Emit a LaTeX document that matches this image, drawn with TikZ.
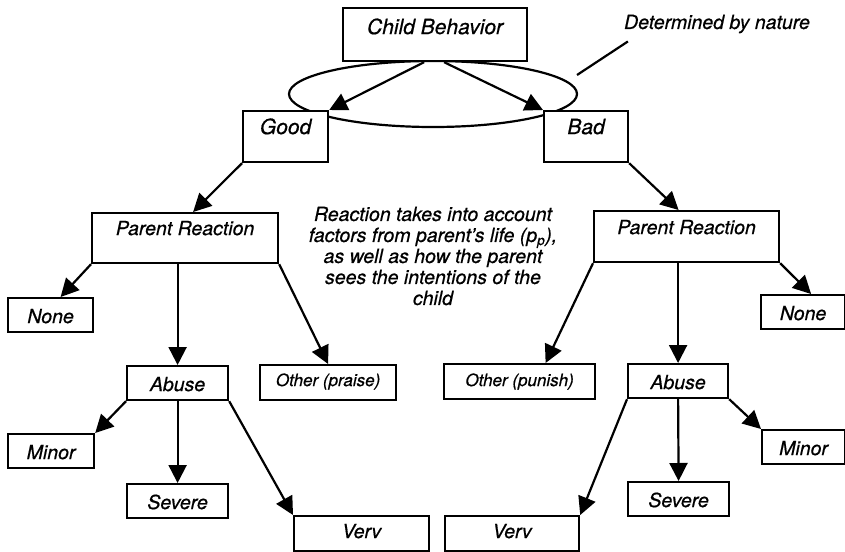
\documentclass[tikz,border=0pt]{standalone}
\usepackage{fontspec}
\setmainfont{TeX Gyre Heros}[ItalicFeatures={FakeBold=0.6}]
\usetikzlibrary{arrows.meta}

\tikzset{
    box/.style={draw, fill=white, line width=2.2pt, inner sep=0pt, anchor=north west,
        font=\fontsize{19.5}{21}\selectfont\itshape},
    tallbox/.style={box, text height=23pt, text depth=28pt},
    smallbox/.style={box, text height=25pt, text depth=9pt},
    arr/.style={line width=2.2pt, -{Triangle[length=18pt,width=18pt]}},
    note/.style={inner sep=0pt, font=\fontsize{19.5}{21}\selectfont\itshape}
}

\begin{document}
\begin{tikzpicture}[x=1pt,y=-1pt]
    \useasboundingbox (0,0) rectangle (845,551);

    % Nature decides the behavior
    \draw[line width=2.2pt] (433,94) ellipse [x radius=144, y radius=33];
    \coordinate (rim) at (577,75);
    \node[note] (nature) at (717,24) {Determined by nature};
    \draw[line width=2.2pt] (rim) -- ([xshift=4pt,yshift=-8pt]nature.south west);

    % Top level
    \node[box, minimum width=184pt, text height=26pt, text depth=27pt,
        font=\fontsize{21}{22}\selectfont\itshape] (child) at (342,7) {Child Behavior};
    \node[tallbox, minimum width=85pt, font=\fontsize{21}{22}\selectfont\itshape] (good) at (242,110) {Good};
    \node[tallbox, minimum width=84pt, font=\fontsize{21}{22}\selectfont\itshape] (bad) at (543,110) {Bad};
    \draw[arr] ([xshift=-11pt]child.south) -- (good.north east);
    \draw[arr] ([xshift=9pt]child.south) -- (bad.north west);

    % Reactions
    \node[tallbox, minimum width=186pt, text height=22pt] (prl) at (91,212) {Parent Reaction};
    \node[tallbox, minimum width=185pt] (prr) at (593,210) {Parent Reaction};
    \draw[arr] (good.south west) -- ([xshift=8pt]prl.north);
    \draw[arr] (bad.south east) -- ([xshift=-8pt]prr.north);

    \node[note, align=center] (reason) at (433,256) {Reaction takes into account\\
        factors from parent’s life (p\textsubscript{p}),\\
        as well as how the parent\\
        sees the intentions of the\\
        child};

    % Left branch
    \node[smallbox, minimum width=85pt] (nonel) at (7,297) {None};
    \node[smallbox, minimum width=101pt] (abusel) at (126,365) {Abuse};
    \node[smallbox, minimum width=136pt, text height=21pt, text depth=14pt,
        font=\fontsize{17}{18}\selectfont\itshape] (otherp) at (259,364) {Other (praise)};
    \draw[arr] (prl.south west) -- ([xshift=10pt]nonel.north);
    \draw[arr] (abusel.north |- prl.south) -- (abusel.north);
    \draw[arr] (prl.south east) -- (otherp.north);

    \node[smallbox, minimum width=86pt] (minorl) at (7,433) {Minor};
    \node[smallbox, minimum width=101pt] (severel) at (126,483) {Severe};
    \node[smallbox, minimum width=135pt, text height=22pt, text depth=13pt] (vervl) at (293,515) {Verv};
    \draw[arr] (abusel.south west) -- (minorl.north east);
    \draw[arr] (abusel.south) -- (severel.north);
    \draw[arr] (abusel.south east) -- (vervl.north west);

    % Right branch
    \node[smallbox, minimum width=151pt, text height=22pt, text depth=13pt,
        font=\fontsize{17}{18}\selectfont\itshape] (otherr) at (443,363) {Other (punish)};
    \node[smallbox, minimum width=100pt] (abuser) at (627,363) {Abuse};
    \node[smallbox, minimum width=84pt] (noner) at (760,294) {None};
    \draw[arr] (prr.south west) -- ([xshift=26pt]otherr.north);
    \draw[arr] (abuser.north |- prr.south) -- (abuser.north);
    \draw[arr] (prr.south east) -- ([xshift=8pt]noner.north);

    \node[smallbox, minimum width=134pt, text height=22pt, text depth=13pt] (vervr) at (444,515) {Verv};
    \node[smallbox, minimum width=101pt] (severer) at (627,481) {Severe};
    \node[smallbox, minimum width=83pt] (minorr) at (761,429) {Minor};
    \draw[arr] (abuser.south west) -- (vervr.north east);
    \draw[arr] (abuser.south) -- (severer.north);
    \draw[arr] (abuser.south east) -- (minorr.north west);
\end{tikzpicture}
\end{document}
